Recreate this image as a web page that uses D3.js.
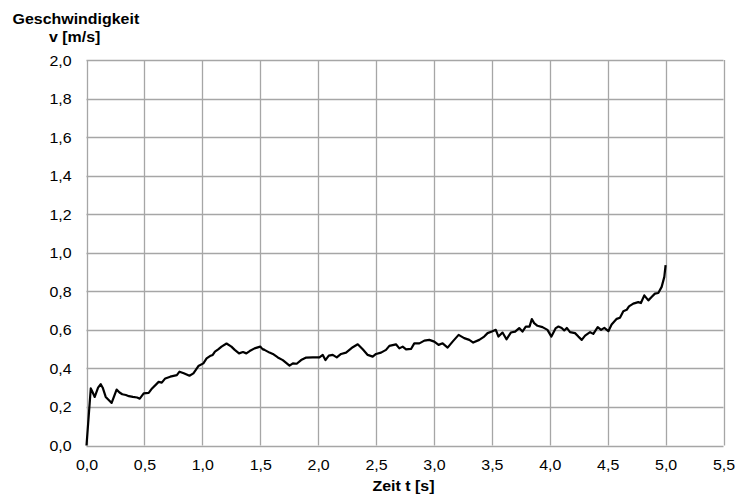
<!DOCTYPE html>
<html>
<head>
<meta charset="utf-8">
<script src="https://cdn.jsdelivr.net/npm/d3@7"></script>
<style>
  html, body { margin: 0; padding: 0; background: #fff; }
  svg text { font-family: "Liberation Sans", Arial, sans-serif; fill: #000; }
</style>
</head>
<body>
<svg id="chart" width="740" height="494"></svg>
<script>
// Zeit (s) und Geschwindigkeit (m/s) der Messreihe
const zeit = [
  0.000, 0.037, 0.050, 0.071, 0.100, 0.123, 0.140, 0.166, 0.194, 0.217,
  0.260, 0.285, 0.309, 0.340, 0.366, 0.400, 0.437, 0.460, 0.494, 0.537,
  0.566, 0.623, 0.650, 0.680, 0.723, 0.780, 0.803, 0.840, 0.889, 0.923,
  0.966, 1.009, 1.037, 1.066, 1.090, 1.109, 1.137, 1.166, 1.209, 1.251,
  1.280, 1.317, 1.351, 1.380, 1.409, 1.451, 1.500, 1.520, 1.537, 1.580,
  1.609, 1.652, 1.695, 1.753, 1.782, 1.815, 1.853, 1.897, 1.954, 2.011,
  2.040, 2.063, 2.092, 2.126, 2.161, 2.198, 2.241, 2.299, 2.342, 2.385,
  2.428, 2.471, 2.500, 2.543, 2.586, 2.615, 2.672, 2.701, 2.730, 2.759,
  2.802, 2.830, 2.874, 2.917, 2.960, 3.003, 3.040, 3.075, 3.118, 3.161,
  3.213, 3.261, 3.305, 3.339, 3.391, 3.434, 3.463, 3.500, 3.534, 3.557,
  3.592, 3.626, 3.664, 3.701, 3.736, 3.764, 3.793, 3.825, 3.845, 3.865,
  3.894, 3.937, 3.980, 4.014, 4.052, 4.075, 4.103, 4.125, 4.147, 4.175,
  4.218, 4.247, 4.276, 4.305, 4.348, 4.376, 4.414, 4.443, 4.471, 4.506,
  4.534, 4.578, 4.606, 4.635, 4.664, 4.684, 4.721, 4.764, 4.787, 4.816,
  4.851, 4.879, 4.908, 4.937, 4.966, 4.989, 5.000
];
const geschwindigkeit = [
  0.000, 0.296, 0.280, 0.252, 0.300, 0.318, 0.300, 0.252, 0.235, 0.221,
  0.290, 0.275, 0.266, 0.262, 0.256, 0.252, 0.249, 0.243, 0.270, 0.273,
  0.296, 0.330, 0.326, 0.348, 0.357, 0.365, 0.383, 0.375, 0.362, 0.374,
  0.412, 0.426, 0.452, 0.464, 0.470, 0.487, 0.499, 0.513, 0.529, 0.513,
  0.496, 0.478, 0.485, 0.478, 0.490, 0.504, 0.513, 0.500, 0.496, 0.482,
  0.475, 0.457, 0.443, 0.414, 0.426, 0.424, 0.443, 0.456, 0.457, 0.457,
  0.470, 0.443, 0.466, 0.470, 0.457, 0.475, 0.482, 0.510, 0.525, 0.499,
  0.470, 0.461, 0.475, 0.482, 0.496, 0.517, 0.525, 0.504, 0.513, 0.499,
  0.501, 0.530, 0.530, 0.544, 0.548, 0.539, 0.522, 0.530, 0.508, 0.539,
  0.574, 0.557, 0.548, 0.534, 0.548, 0.565, 0.583, 0.591, 0.600, 0.565,
  0.586, 0.551, 0.586, 0.591, 0.609, 0.591, 0.617, 0.617, 0.656, 0.635,
  0.621, 0.614, 0.600, 0.565, 0.609, 0.617, 0.610, 0.597, 0.610, 0.588,
  0.583, 0.565, 0.548, 0.570, 0.588, 0.579, 0.614, 0.600, 0.610, 0.593,
  0.628, 0.657, 0.663, 0.697, 0.704, 0.722, 0.736, 0.744, 0.739, 0.779,
  0.753, 0.770, 0.788, 0.791, 0.823, 0.875, 0.936
];
const xTicks = [0, 0.5, 1, 1.5, 2, 2.5, 3, 3.5, 4, 4.5, 5, 5.5];
const yTicks = [0, 0.2, 0.4, 0.6, 0.8, 1.0, 1.2, 1.4, 1.6, 1.8, 2.0];

const svg = d3.select("#chart");
const W = 740, H = 494;
const margin = { left: 86.5, right: W - 723.5, top: 60, bottom: H - 445.5 };

const x = d3.scaleLinear().domain([0, 5.5]).range([margin.left, W - margin.right]);
const y = d3.scaleLinear().domain([0, 2.0]).range([H - margin.bottom, margin.top]);
const fmt = d => d3.format(".1f")(d).replace(".", ",");

const gridColor = "#a6a6a6";
const FS = 14;          // Schriftgröße
const SX = 1.14;        // leicht gedehnte Schrift

// Gitterlinien
svg.append("g").selectAll("line").data(xTicks).join("line")
  .attr("x1", d => Math.round(x(d)) + 0.5).attr("x2", d => Math.round(x(d)) + 0.5)
  .attr("y1", y(2.0)).attr("y2", y(0))
  .attr("stroke", gridColor).attr("stroke-width", 1.3);
svg.append("g").selectAll("line").data(yTicks).join("line")
  .attr("y1", d => Math.round(y(d)) + 0.5).attr("y2", d => Math.round(y(d)) + 0.5)
  .attr("x1", x(0)).attr("x2", x(5.5))
  .attr("stroke", gridColor).attr("stroke-width", 1.3);

// Achsen (Beschriftung)
const xAxis = svg.append("g")
  .attr("transform", `translate(0,${y(0)})`)
  .call(d3.axisBottom(x).tickValues(xTicks).tickFormat(fmt).tickSize(0).tickPadding(15));
const yAxis = svg.append("g")
  .attr("transform", `translate(${x(0)},0)`)
  .call(d3.axisLeft(y).tickValues(yTicks).tickFormat(fmt).tickSize(0).tickPadding(13));
[xAxis, yAxis].forEach(a => {
  a.select(".domain").remove();
  a.selectAll("text")
    .attr("font-size", FS)
    .attr("font-family", "Liberation Sans, Arial, sans-serif")
    .attr("fill", "#000")
    .attr("transform", `scale(${SX},1)`);
});
yAxis.selectAll("text").attr("dy", "0.36em");

// Messkurve
const line = d3.line().x(d => x(d[0])).y(d => y(d[1]));
svg.append("path")
  .datum(d3.zip(zeit, geschwindigkeit))
  .attr("d", line)
  .attr("fill", "none")
  .attr("stroke", "#000")
  .attr("stroke-width", 2.2)
  .attr("stroke-linejoin", "round");

// Achsentitel
function title(px, py, txt, anchor) {
  svg.append("text")
    .attr("transform", `translate(${px},${py}) scale(${SX},1)`)
    .attr("text-anchor", anchor || "start")
    .attr("font-size", FS).attr("font-weight", "bold").text(txt);
}
title(12.5, 24, "Geschwindigkeit");
title(49, 42, "v [m/s]");
title(x(2.75) - 1.5, 490.5, "Zeit t [s]", "middle");
</script>
</body>
</html>
